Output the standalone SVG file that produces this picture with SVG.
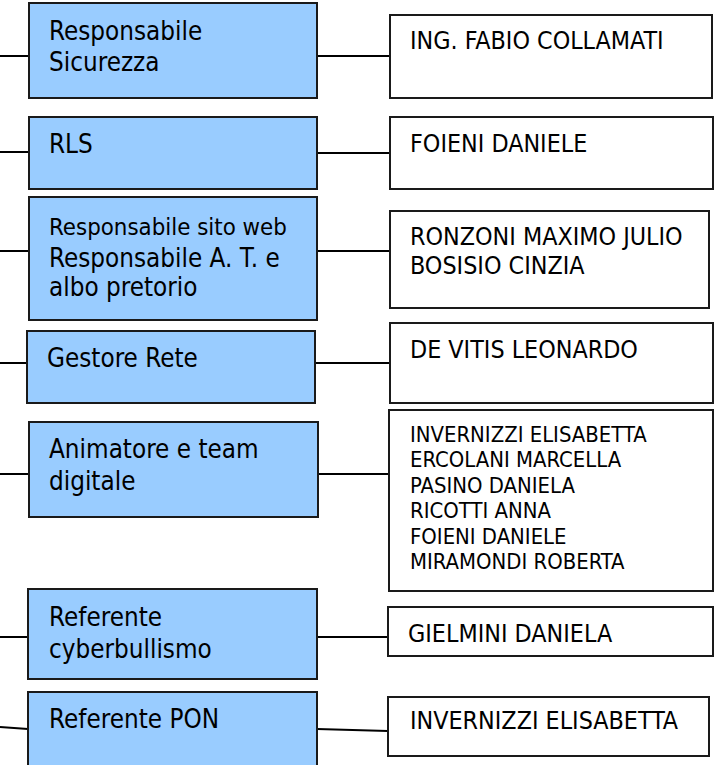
<svg xmlns="http://www.w3.org/2000/svg" width="716" height="765" viewBox="0 0 716 765">
<style>
.role{fill:#99ccff;stroke:#1a1a1a;stroke-width:2}
.name{fill:#ffffff;stroke:#1a1a1a;stroke-width:2}
.t{font-family:"DejaVu Sans Condensed","DejaVu Sans",sans-serif;font-stretch:condensed;font-size:25.8px;fill:#000}
.s{font-size:23.8px}
.n{font-family:"DejaVu Sans Condensed","DejaVu Sans",sans-serif;font-stretch:condensed;font-size:24.8px;fill:#000}
.l{font-size:21.9px}
.c{stroke:#000;stroke-width:2;fill:none}
</style>
<rect width="716" height="765" fill="#fff"/>
<g id="connectors">
<line class="c" x1="0" y1="56" x2="29" y2="56"/><line class="c" x1="317" y1="56" x2="390" y2="56"/>
<line class="c" x1="0" y1="152" x2="29" y2="152"/><line class="c" x1="317" y1="153" x2="390" y2="153"/>
<line class="c" x1="0" y1="251" x2="29" y2="251"/><line class="c" x1="317" y1="251" x2="390" y2="251"/>
<line class="c" x1="0" y1="363" x2="27" y2="363"/><line class="c" x1="315" y1="363" x2="390" y2="363"/>
<line class="c" x1="0" y1="474" x2="29" y2="474"/><line class="c" x1="318" y1="474" x2="389" y2="474"/>
<line class="c" x1="0" y1="637" x2="28" y2="637"/><line class="c" x1="317" y1="637" x2="388" y2="637"/>
<line class="c" x1="0" y1="727" x2="28" y2="729"/><line class="c" x1="317" y1="729" x2="388" y2="731"/>
</g>
<g id="role1"><rect class="role" x="29" y="3" width="288" height="95"/><text class="t" x="49" y="40">Responsabile</text><text class="t" x="49" y="71">Sicurezza</text></g>
<g id="role2"><rect class="role" x="29" y="117" width="288" height="72"/><text class="t" x="49" y="153">RLS</text></g>
<g id="role3"><rect class="role" x="29" y="197" width="288" height="123"/><text class="t s" x="49" y="235">Responsabile sito web</text><text class="t" x="49" y="267">Responsabile A. T. e</text><text class="t" x="49" y="296">albo pretorio</text></g>
<g id="role4"><rect class="role" x="27" y="331" width="288" height="72"/><text class="t" x="47" y="367">Gestore Rete</text></g>
<g id="role5"><rect class="role" x="29" y="422" width="289" height="95"/><text class="t" x="49" y="458">Animatore e team</text><text class="t" x="49" y="490">digitale</text></g>
<g id="role6"><rect class="role" x="28" y="589" width="289" height="90"/><text class="t" x="49" y="626">Referente</text><text class="t" x="49" y="658">cyberbullismo</text></g>
<g id="role7"><rect class="role" x="28" y="692" width="289" height="90"/><text class="t" x="49" y="728">Referente PON</text></g>
<g id="name1"><rect class="name" x="390" y="15" width="322" height="83"/><text class="n" x="410" y="49">ING. FABIO COLLAMATI</text></g>
<g id="name2"><rect class="name" x="390" y="117" width="323" height="72"/><text class="n" x="410" y="152">FOIENI DANIELE</text></g>
<g id="name3"><rect class="name" x="390" y="211" width="319" height="97"/><text class="n" x="410" y="245">RONZONI MAXIMO JULIO</text><text class="n" x="410" y="274">BOSISIO CINZIA</text></g>
<g id="name4"><rect class="name" x="390" y="323" width="323" height="80"/><text class="n" x="410" y="358">DE VITIS LEONARDO</text></g>
<g id="name5"><rect class="name" x="389" y="410" width="324" height="181"/><text class="n l" x="410" y="442">INVERNIZZI ELISABETTA</text><text class="n l" x="410" y="467">ERCOLANI MARCELLA</text><text class="n l" x="410" y="493">PASINO DANIELA</text><text class="n l" x="410" y="518">RICOTTI ANNA</text><text class="n l" x="410" y="544">FOIENI DANIELE</text><text class="n l" x="410" y="569">MIRAMONDI ROBERTA</text></g>
<g id="name6"><rect class="name" x="388" y="607" width="325" height="49"/><text class="n" x="408" y="642">GIELMINI DANIELA</text></g>
<g id="name7"><rect class="name" x="388" y="697" width="321" height="59"/><text class="n" x="410" y="729">INVERNIZZI ELISABETTA</text></g>
</svg>
